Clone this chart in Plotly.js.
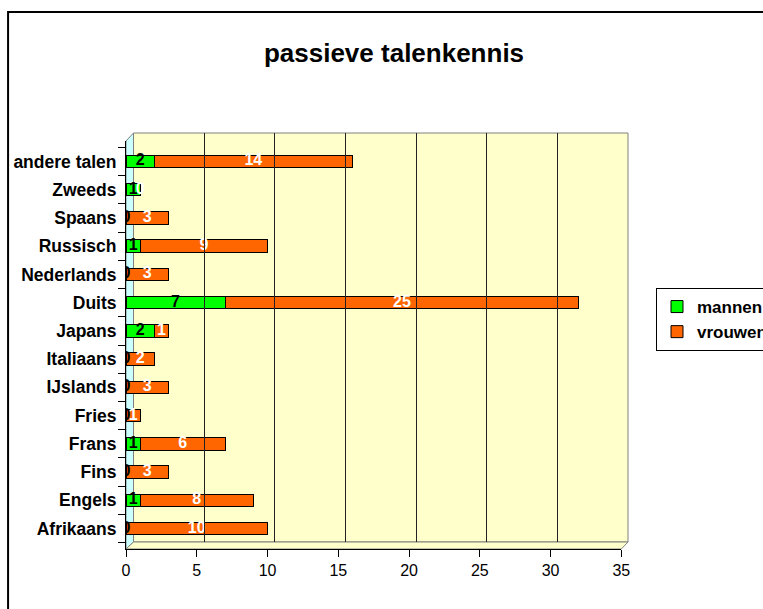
<!DOCTYPE html>
<html>
<head>
<meta charset="utf-8">
<script src="https://cdn.plot.ly/plotly-3.0.1.min.js"></script>
<style>html,body{margin:0;padding:0;background:#fff;}#chart{width:763px;height:609px;}</style>
</head>
<body>
<div id="chart"></div>
<script>
// ---- data ----
const categories = ['Afrikaans','Engels','Fins','Frans','Fries','IJslands','Italiaans','Japans','Duits','Nederlands','Russisch','Spaans','Zweeds','andere talen'];
const mannen  = [0,1,0,1,0,0,0,2,7,0,1,0,1,2];
const vrouwen = [10,8,3,6,1,3,2,1,25,3,9,3,0,14];
const seriesNames = ['mannen','vrouwen'];
const xTicks = [0,5,10,15,20,25,30,35];
const chartTitle = 'passieve talenkennis';

// ---- geometry (pixels) ----
const W = 763, H = 609;
const L = 126, R = 628.3, T = 133, B = 549;
const PW = R - L, PH = B - T;
const frontRight = 621.6, frontTop = 141;
const backLeft = 133.5, backBottom = 542;
const px = v => (v - L) / PW;
const py = v => (B - v) / PH;

const font = 'Liberation Sans, Arial, sans-serif';

const traces = [
  {type:'bar', orientation:'h', name:seriesNames[0], y:categories, x:mannen,
   marker:{color:'#00FF00', line:{color:'#000', width:1}}, hoverinfo:'none'},
  {type:'bar', orientation:'h', name:seriesNames[1], y:categories, x:vrouwen,
   marker:{color:'#FF6600', line:{color:'#000', width:1}}, hoverinfo:'none'},
  {type:'scatter', mode:'text', showlegend:false, y:categories,
   x:mannen.map(m => m/2), text:mannen.map(String),
   textfont:{family:font, size:16, color:'#000', weight:'bold'}, hoverinfo:'none'},
  {type:'scatter', mode:'text', showlegend:false, y:categories,
   x:mannen.map((m,i) => m + vrouwen[i]/2), text:vrouwen.map(String),
   textfont:{family:font, size:16, color:'#fff', weight:'bold'}, hoverinfo:'none'},
  {type:'scatter', mode:'markers', showlegend:false, x:[], y:[], xaxis:'x2', yaxis:'y2', hoverinfo:'none'}
];

const wallLine = {color:'#808080', width:1};
const shapes = [
  // outer frame
  {type:'rect', xref:'paper', yref:'paper', x0:px(8), x1:px(800), y0:py(12), y1:py(650),
   line:{color:'#000', width:2}, fillcolor:'rgba(0,0,0,0)', layer:'below'},
  // back wall
  {type:'rect', xref:'paper', yref:'paper', x0:px(backLeft), x1:px(R), y0:py(backBottom), y1:py(T),
   line:wallLine, fillcolor:'#FFFFCC', layer:'below'},
  // left wall
  {type:'path', xref:'paper', yref:'paper', layer:'below', fillcolor:'#CCFFFF', line:wallLine,
   path:`M${px(L)},${py(B)} L${px(L)},${py(frontTop)} L${px(backLeft)},${py(T)} L${px(backLeft)},${py(backBottom)} Z`},
  // floor
  {type:'path', xref:'paper', yref:'paper', layer:'below', fillcolor:'#FFFFCC', line:wallLine,
   path:`M${px(L)},${py(B)} L${px(frontRight)},${py(B)} L${px(R)},${py(backBottom)} L${px(backLeft)},${py(backBottom)} Z`}
];

const layout = {
  width: W, height: H,
  margin: {l: L, r: W - R, t: T, b: H - B, pad: 0},
  paper_bgcolor: '#fff',
  plot_bgcolor: 'rgba(0,0,0,0)',
  barmode: 'stack',
  bargap: 0.56,
  showlegend: true,
  title: {text: chartTitle, xref:'container', yref:'container', x: 394/W, xanchor:'center',
          y: 1 - 53/H, yanchor:'middle',
          font:{family:font, size:26, color:'#000', weight:'bold'}},
  xaxis: {domain:[0, px(frontRight)], range:[0,35], tickvals:xTicks, ticktext:xTicks.map(String),
          ticks:'outside', ticklen:7, tickcolor:'#000', showline:true, linecolor:'#000', linewidth:1,
          showgrid:false, zeroline:false, tickfont:{family:font, size:16, color:'#000'},
          anchor:'y', fixedrange:true, automargin:false},
  yaxis: {domain:[0, py(frontTop)], type:'category', categoryorder:'array', categoryarray:categories,
          tickson:'boundaries', ticks:'outside', ticklen:7, tickcolor:'#000',
          showline:true, linecolor:'#000', linewidth:1, showgrid:false, zeroline:false,
          ticklabelstandoff:5,
          tickfont:{family:font, size:17.5, color:'#000', weight:'bold'}, anchor:'x', fixedrange:true,
          automargin:false},
  xaxis2: {domain:[px(backLeft), 1], range:[0,35], tickvals:xTicks, showgrid:true, gridcolor:'#222',
           gridwidth:1, showticklabels:false, ticks:'', showline:false, zeroline:false, anchor:'y2'},
  yaxis2: {domain:[py(backBottom), 1], range:[0,1], showgrid:false, showticklabels:false,
           ticks:'', showline:false, zeroline:false, anchor:'x2'},
  legend: {xref:'container', yref:'container', x: 656/W, xanchor:'left', y: 1 - 288/H, yanchor:'top',
           bgcolor:'#fff', bordercolor:'#000', borderwidth:1, traceorder:'normal',
           font:{family:font, size:17, color:'#000', weight:'bold'}, tracegroupgap:0,
           itemwidth:30},
  shapes: shapes
};

Plotly.newPlot('chart', traces, layout, {staticPlot:true, displayModeBar:false});
</script>
</body>
</html>
